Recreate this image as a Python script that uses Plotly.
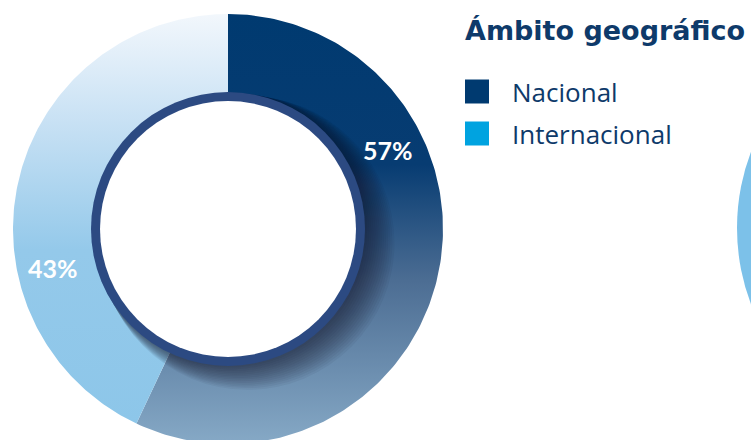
import numpy as np
import plotly.graph_objects as go

# ---- data ----
labels = ["Nacional", "Internacional"]
values = [57, 43]
pct_labels = ["57%", "43%"]
legend_colors = ["#003a70", "#00a3e0"]
title_text = "Ámbito geográfico"

# ---- styling ----
W, H = 751, 440
CX, CY = 228, 229          # donut centre in page pixels
R_OUT, R_IN = 215, 130
gradients = [
    [[0, "#003a70"], [0.35, "#073c72"], [0.62, "#4c6d93"], [1, "#86a9c6"]],
    [[0, "#f2f7fc"], [0.25, "#c8e1f4"], [0.55, "#94c9ea"], [1, "#8cc6e9"]],
]
TXT = "#0e3a6a"


def px(x):
    return x / W


def py(y):
    return 1 - y / H


fig = go.Figure()

total = sum(values)
start = 0.0
for lab, val, cs in zip(labels, values, gradients):
    a0 = start
    a1 = start + val / total * 360.0
    start = a1
    t = np.radians(np.linspace(a0, a1, 200))
    xo, yo = R_OUT * np.sin(t), R_OUT * np.cos(t)
    xi, yi = R_IN * np.sin(t[::-1]), R_IN * np.cos(t[::-1])
    xs = np.concatenate([xo, xi, xo[:1]])
    ys = np.concatenate([yo, yi, yo[:1]])
    fig.add_trace(go.Scatter(
        x=xs, y=ys, mode="lines", fill="toself", line=dict(width=0),
        fillgradient=dict(type="vertical", colorscale=cs, start=R_OUT, stop=-R_OUT),
        name=lab, hoverinfo="name", showlegend=False))

shapes = []
# second chart peeking at the right edge
shapes.append(dict(type="circle", xref="x", yref="y", x0=724 - 215, x1=724 + 215,
                   y0=1 - 215, y1=1 + 215, fillcolor="#7cc1e9", line=dict(width=0),
                   layer="below"))
# shadow of the ring
for k in range(1, 15):
    r = 137 + 0.7 * k
    ox, oy = 1.4 * k, -1.0 * k
    shapes.append(dict(type="circle", xref="x", yref="y", x0=ox - r, x1=ox + r,
                       y0=oy - r, y1=oy + r, fillcolor="rgba(15,25,45,0.05)",
                       line=dict(width=0), layer="above"))
# ring
shapes.append(dict(type="circle", xref="x", yref="y", x0=-137, x1=137, y0=-137, y1=137,
                   fillcolor="#2c4a82", line=dict(width=0), layer="above"))
shapes.append(dict(type="circle", xref="x", yref="y", x0=-128, x1=128, y0=-128, y1=128,
                   fillcolor="#ffffff", line=dict(width=0), layer="above"))

annotations = []
# percentage labels
for txt, (lx, ly) in zip(pct_labels, [(388, 150), (53, 268)]):
    annotations.append(dict(x=px(lx), y=py(ly), xref="paper", yref="paper", text=txt,
                            showarrow=False, xanchor="center", yanchor="middle",
                            font=dict(family="Lato", size=25, color="white", weight=700)))

# title
annotations.append(dict(x=px(463), y=py(31), xref="paper", yref="paper", text=title_text,
                        showarrow=False, xanchor="left", yanchor="middle",
                        font=dict(family="DejaVu Sans", size=27, color=TXT, weight=700)))
# legend
for i, (lab, col) in enumerate(zip(labels, legend_colors)):
    ymid = 91.5 + 42 * i
    shapes.append(dict(type="rect", xref="paper", yref="paper",
                       x0=px(465), x1=px(489), y0=py(ymid - 12), y1=py(ymid + 12),
                       fillcolor=col, line=dict(width=0)))
    annotations.append(dict(x=px(510), y=py(ymid), xref="paper", yref="paper", text=lab,
                            showarrow=False, xanchor="left", yanchor="middle",
                            font=dict(family="Open Sans", size=26, color=TXT)))

fig.update_layout(
    width=W, height=H, margin=dict(l=0, r=0, t=0, b=0),
    paper_bgcolor="white", plot_bgcolor="white",
    xaxis=dict(range=[-CX, W - CX], visible=False, fixedrange=True),
    yaxis=dict(range=[CY - H, CY], visible=False, fixedrange=True),
    shapes=shapes, annotations=annotations, showlegend=False,
)
fig.write_html("out.html", config={"displayModeBar": False},
               post_script="document.body.style.margin='0';document.body.style.overflow='hidden';")
